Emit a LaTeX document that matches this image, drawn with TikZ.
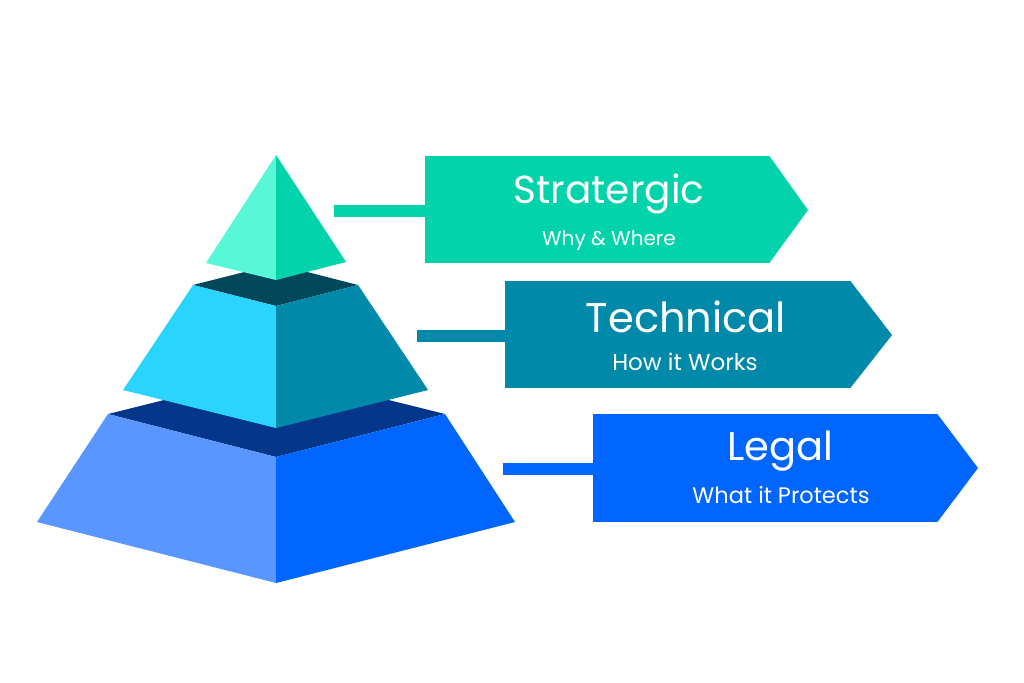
\documentclass[tikz,border=0pt]{standalone}
\usepackage{fontspec}
\setmainfont{Poppins}
\definecolor{aqL}{HTML}{57F7D8}
\definecolor{aqR}{HTML}{03D3AA}
\definecolor{tealTop}{HTML}{03475A}
\definecolor{cyL}{HTML}{2BD4FC}
\definecolor{cyR}{HTML}{0189AA}
\definecolor{navyTop}{HTML}{04378A}
\definecolor{blL}{HTML}{5996FF}
\definecolor{blR}{HTML}{0066FF}
\begin{document}
\begin{tikzpicture}[x=1pt,y=-1pt,
  boxbase/.style={draw=none,inner sep=0pt,minimum width=344pt,minimum height=107pt},
  titletext/.style={text=white,font=\fontsize{40}{42}\selectfont,anchor=base,inner sep=0pt},
  subtext/.style={text=white,font=\fontsize{22.5}{24}\selectfont,anchor=base,inner sep=0pt},
  barline/.style={line width=12pt,line cap=butt}]
\useasboundingbox (0,0) rectangle (1024,682);
% bottom tier
\fill[navyTop] (108,414) -- (276,372) -- (445,414) -- (276,457) -- cycle;
\fill[blL] (108,414) -- (276,457) -- (276,583) -- (37,522) -- cycle;
\fill[blR] (445,414) -- (276,457) -- (276,583) -- (515,522) -- cycle;
% middle tier
\fill[tealTop] (193,285) -- (276,264) -- (358,285) -- (276,306) -- cycle;
\fill[cyL] (193,285) -- (276,306) -- (276,428) -- (123,390) -- cycle;
\fill[cyR] (358,285) -- (276,306) -- (276,428) -- (428,390) -- cycle;
% top
\fill[aqL] (276,155) -- (276,280) -- (206,263) -- cycle;
\fill[aqR] (276,155) -- (276,280) -- (346,262) -- cycle;
% anchors on pyramid
\coordinate (c1) at (334,211);
\coordinate (c2) at (417,336);
\coordinate (c3) at (503,469);
% boxes
\node[boxbase,fill=aqR] (box1) at (597,209.5) {};
\fill[aqR] (box1.north east) -- (808,210) -- (box1.south east) -- cycle;
\node[boxbase,fill=cyR,minimum width=345pt] (box2) at (677.5,334.5) {};
\fill[cyR] (box2.north east) -- (892,335) -- (box2.south east) -- cycle;
\node[boxbase,fill=blR,minimum height=108pt] (box3) at (765,468) {};
\fill[blR] (box3.north east) -- (978,468) -- (box3.south east) -- cycle;
% connectors
\draw[barline,aqR] (c1) -- (box1.west |- c1);
\draw[barline,cyR] (c2) -- (box2.west |- c2);
\draw[barline,blR] (c3) -- (box3.west |- c3);
% texts
\node[titletext,font=\fontsize{39}{40}\selectfont] (t1) at (609,203) {Stratergic};
\node[subtext,font=\fontsize{20}{22}\selectfont] (s1) at (609,245) {Why \& Where};
\node[titletext,font=\fontsize{41.5}{42}\selectfont] (t2) at (686,332) {Technical};
\node[subtext,font=\fontsize{23}{24}\selectfont] (s2) at (685,370) {How it Works};
\node[titletext] (t3) at (780,460) {Legal};
\node[subtext] (s3) at (781,503) {What it Protects};
\end{tikzpicture}
\end{document}
